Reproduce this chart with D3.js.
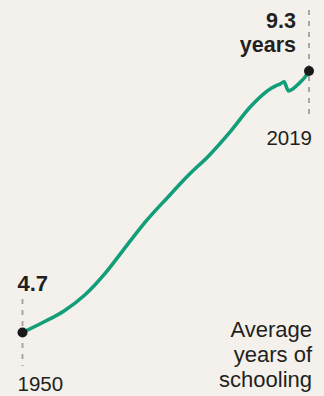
<!DOCTYPE html>
<html>
<head>
<meta charset="utf-8">
<script src="https://cdn.jsdelivr.net/npm/d3@7"></script>
<style>
  html, body { margin: 0; padding: 0; background: #f4f1ec; }
  svg { display: block; }
  text { font-family: "Liberation Sans", Arial, sans-serif; fill: #231f20; }
</style>
</head>
<body>
<svg id="chart" width="324" height="396"></svg>
<script>
// Average years of schooling, 1950–2019
const years = [1950, 1955, 1960, 1965, 1970, 1975, 1980, 1985, 1990, 1995, 2000, 2005,
               2010, 2011, 2012, 2013, 2014, 2015, 2016, 2017, 2018, 2019];
const schooling = [4.7, 4.88, 5.08, 5.36, 5.75, 6.22, 6.68, 7.08, 7.47, 7.82, 8.23, 8.68,
                   9.0, 9.04, 9.07, 9.11, 8.95, 8.98, 9.04, 9.11, 9.19, 9.3];
const endYears = [1950, 2019];
const endLabels = ["4.7", "9.3"];
const unitLabel = "years";
const titleLines = ["Average", "years of", "schooling"];

const svg = d3.select("#chart");

const x = d3.scaleLinear().domain([1950, 2019]).range([22.5, 309]);
const y = d3.scaleLinear().domain([4.7, 9.3]).range([332.5, 71]);

const data = years.map((yr, i) => ({ year: yr, value: schooling[i] }));
const first = data[0], last = data[data.length - 1];

// dashed guides through the end points
svg.append("line")
  .attr("x1", x(first.year)).attr("x2", x(first.year))
  .attr("y1", 299).attr("y2", 366)
  .attr("stroke", "#a9a6a2").attr("stroke-width", 2)
  .attr("stroke-dasharray", "5,6");
svg.append("line")
  .attr("x1", x(last.year)).attr("x2", x(last.year))
  .attr("y1", 10).attr("y2", 120)
  .attr("stroke", "#a9a6a2").attr("stroke-width", 2)
  .attr("stroke-dasharray", "5,6");

// the series line
const line = d3.line()
  .x(d => x(d.year))
  .y(d => y(d.value))
  .curve(d3.curveMonotoneX);

svg.append("path")
  .datum(data)
  .attr("d", line)
  .attr("fill", "none")
  .attr("stroke", "#129e78")
  .attr("stroke-width", 3.6)
  .attr("stroke-linejoin", "round")
  .attr("stroke-linecap", "round");

// end points
svg.selectAll("circle.end")
  .data([first, last])
  .join("circle")
  .attr("class", "end")
  .attr("cx", d => x(d.year))
  .attr("cy", d => y(d.value))
  .attr("r", 5)
  .attr("fill", "#1a1a1a");

// value labels
svg.append("text")
  .attr("x", x(first.year) - 5).attr("y", 291)
  .attr("font-size", 22).attr("font-weight", 700)
  .text(endLabels[0]);

svg.append("text")
  .attr("x", x(last.year) - 13).attr("y", 27.5)
  .attr("text-anchor", "end")
  .attr("font-size", 21.5).attr("font-weight", 700)
  .text(endLabels[1]);
svg.append("text")
  .attr("x", x(last.year) - 13).attr("y", 52)
  .attr("text-anchor", "end")
  .attr("font-size", 21.5).attr("font-weight", 700)
  .text(unitLabel);

// year labels
svg.append("text")
  .attr("x", x(endYears[0]) - 5).attr("y", 391)
  .attr("font-size", 20.5)
  .text(endYears[0]);
svg.append("text")
  .attr("x", 312).attr("y", 145)
  .attr("text-anchor", "end")
  .attr("font-size", 20.5)
  .text(endYears[1]);

// title block, bottom right
svg.append("text")
  .attr("text-anchor", "end")
  .attr("font-size", 22)
  .selectAll("tspan")
  .data(titleLines)
  .join("tspan")
  .attr("x", 312)
  .attr("y", (d, i) => 337 + i * 25)
  .text(d => d);
</script>
</body>
</html>
